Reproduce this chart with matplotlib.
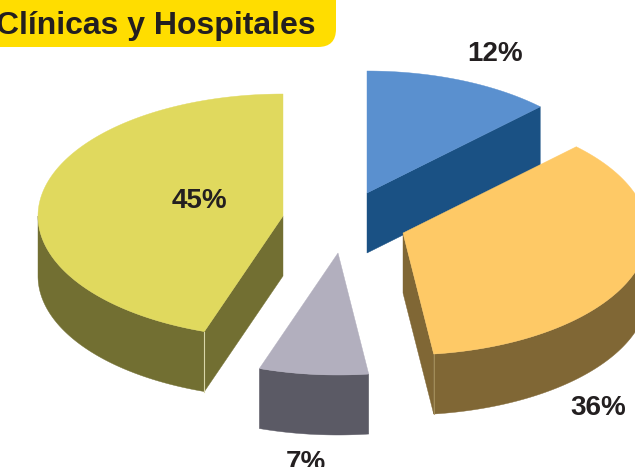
import numpy as np
import matplotlib
matplotlib.use('Agg')
import matplotlib.pyplot as plt
from matplotlib.patches import Polygon, FancyBboxPatch

# Pie data
title = 'Clínicas y Hospitales'
names = ['blue', 'orange', 'gray', 'yellow']
values = [12.5, 35.5, 7.2, 44.8]

# Slice styles
top_colors = ['#5a90cf', '#fec966', '#b2afbe', '#e0d95e']
side_colors = ['#1a5184', '#806735', '#5b5a65', '#726f32']
centers = [(367, 193), (403, 233), (338, 253), (283, 216)]
label_pos = [(495, 54), (598, 408), (306, 463), (199, 201)]
draw_order = [3, 0, 2, 1]

rx, ry = 245, 122
depth = 60

fig = plt.figure(figsize=(6.35, 4.67), dpi=100)
ax = fig.add_axes([0, 0, 1, 1])
ax.set_xlim(0, 635)
ax.set_ylim(467, 0)
ax.axis('off')


def arc_points(cx, cy, a0, a1):
    # angles run clockwise from 12 o'clock
    t = np.radians(np.linspace(a0, a1, 200))
    return np.column_stack([cx + rx * np.sin(t), cy - ry * np.cos(t)])


def draw_cut(apex, edge, color, zorder):
    pts = [apex, edge, (edge[0], edge[1] + depth), (apex[0], apex[1] + depth)]
    ax.add_patch(Polygon(pts, closed=True, fc=color, ec=color, lw=0.3, zorder=zorder))


edges = np.cumsum([0] + values) / 100 * 360

for i in draw_order:
    cx, cy = centers[i]
    a0, a1 = edges[i], edges[i + 1]
    z = 2 + draw_order.index(i) * 3
    arc = arc_points(cx, cy, a0, a1)

    # outer rim, only the part facing the viewer (90 to 270 degrees)
    lo, hi = max(a0, 90), min(a1, 270)
    if lo < hi:
        rim = arc_points(cx, cy, lo, hi)
        rim_low = (rim + [0, depth])[::-1]
        ax.add_patch(Polygon(np.vstack([rim, rim_low]), closed=True,
                             fc=side_colors[i], ec=side_colors[i], lw=0.3, zorder=z))

    # cut faces, only where they face the viewer
    if names[i] == 'blue':
        draw_cut((cx, cy), arc[-1], side_colors[i], z)
    if names[i] == 'orange':
        draw_cut((cx, cy), arc[-1], side_colors[i], z)
        ax.plot([arc[-1][0]] * 2, [arc[-1][1], arc[-1][1] + depth], color='#a8945f', lw=0.6, zorder=z + 1)
    if names[i] == 'yellow':
        draw_cut((cx, cy), arc[0], side_colors[i], z)
        ax.plot([arc[0][0]] * 2, [arc[0][1], arc[0][1] + depth], color='#d8d6a8', lw=0.8, zorder=z + 1)

    top = np.vstack([[cx, cy], arc])
    ax.add_patch(Polygon(top, closed=True, fc=top_colors[i], ec=top_colors[i], lw=0.3, zorder=z + 2))

# Percent labels
for v, (x, y) in zip(values, label_pos):
    ax.text(x, y, f'{round(v)}%', ha='center', va='center', fontsize=20,
            fontweight='bold', family='Liberation Sans', color='#231f20', zorder=30)

# Title box, runs off the left side of the picture
box = FancyBboxPatch((-40, 0 - 30), 376, 77, boxstyle='round,pad=0,rounding_size=18',
                     fc='#ffdd00', ec='none', zorder=31)
ax.add_patch(box)
ax.text(-4, 34, title, ha='left', va='baseline', fontsize=23, fontweight='bold',
        family='Liberation Sans', color='#231f20', zorder=32)

fig.savefig('out.png', dpi=100)
